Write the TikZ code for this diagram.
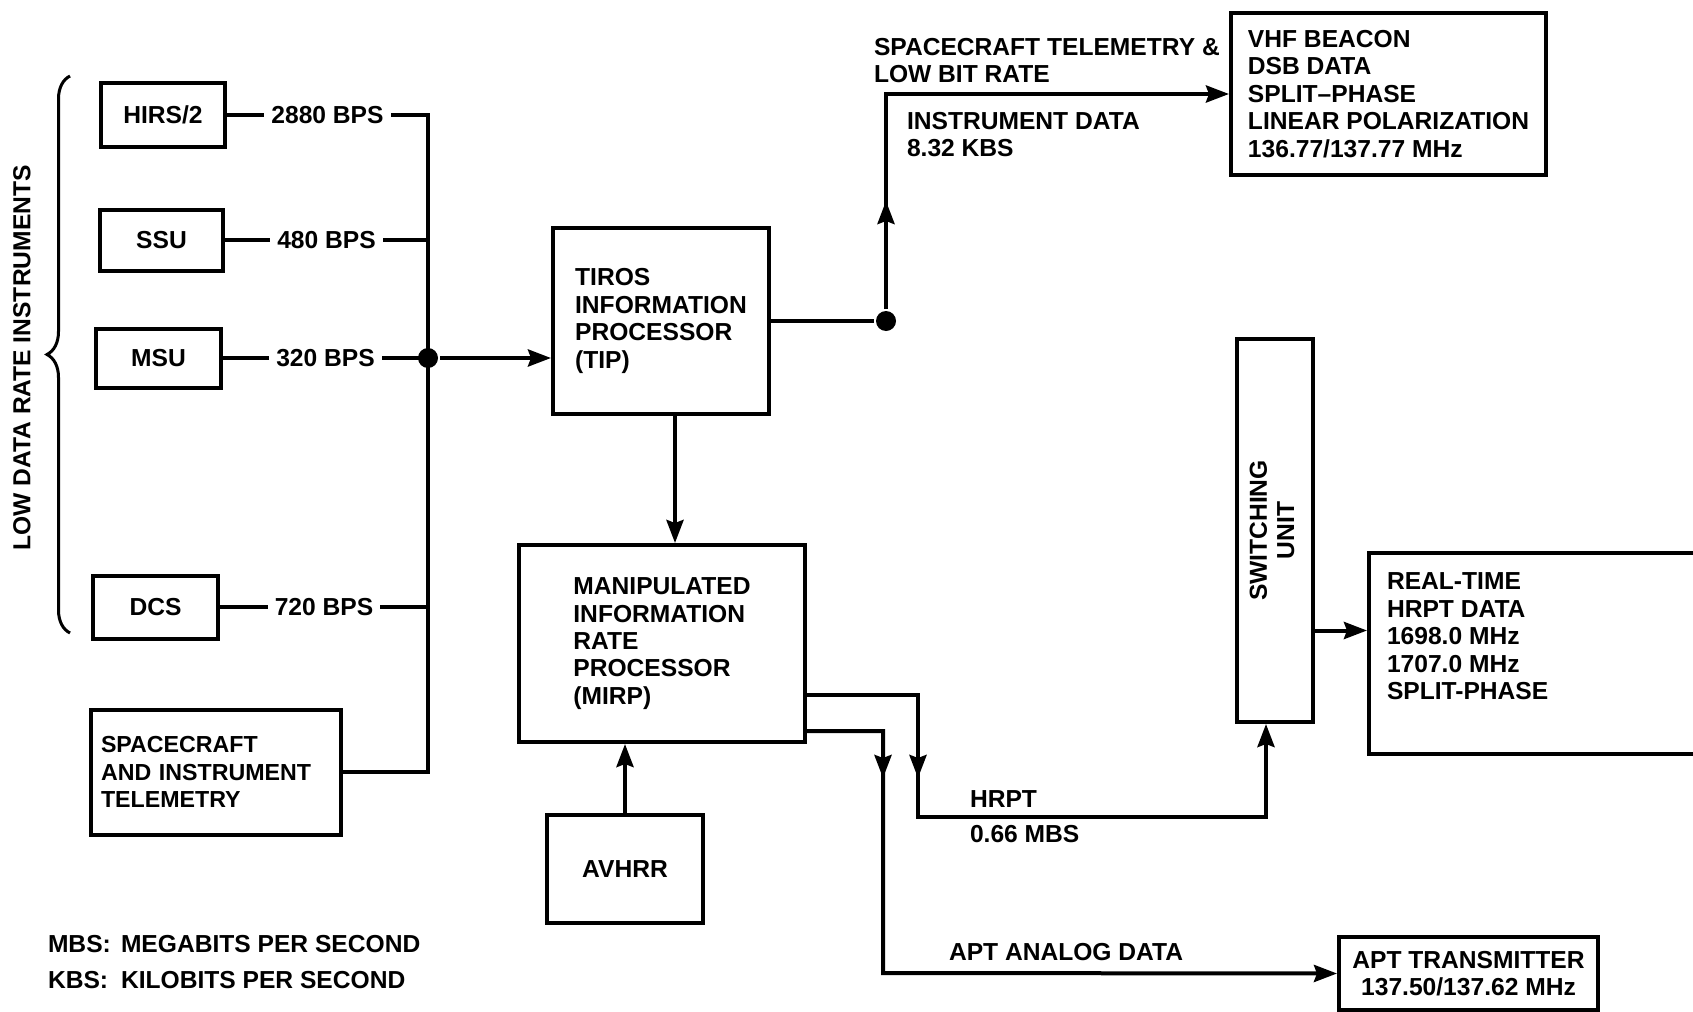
\documentclass[tikz,border=0pt]{standalone}
\usepackage{fontspec}
\setmainfont{Liberation Sans}
\usetikzlibrary{arrows.meta,decorations.pathreplacing,decorations.markings}

\begin{document}
\begin{tikzpicture}[x=0.5pt,y=-0.5pt,line width=2pt,
    >={Stealth[length=11.5pt,width=8.5pt,inset=1.5pt]},
    every node/.style={font=\bfseries\fontsize{12.3}{13.7}\selectfont},
    blk/.style={draw,align=left,inner sep=0pt},
    ctr/.style={draw,align=center,inner sep=0pt},
    rate/.style={fill=white,inner xsep=3.5pt,inner ysep=2pt},
    txt/.style={inner sep=0pt,align=left},
    dot/.style={circle,fill,inner sep=0pt,minimum size=10pt},
    midar/.style={postaction={decorate},decoration={markings,mark=at position #1 with {\arrow{>}}}}]
    \useasboundingbox (0,0) rectangle (1693,1012);

    % low data rate instruments
    \node[ctr,minimum width=62pt,minimum height=32pt] (hirs) at (163,115) {HIRS/2};
    \node[ctr,minimum width=61.5pt,minimum height=30.5pt] (ssu) at (161.5,240) {SSU};
    \node[ctr,minimum width=62.5pt,minimum height=29.5pt] (msu) at (158.5,358) {MSU};
    \node[ctr,minimum width=62.5pt,minimum height=31.5pt] (dcs) at (155.5,607) {DCS};
    \node[draw,align=left,inner xsep=5pt,text width=115pt,minimum height=62.5pt,font=\bfseries\fontsize{11.6}{13.7}\selectfont] (sait) at (216,772) {SPACECRAFT\\AND INSTRUMENT\\TELEMETRY};
    \node[rotate=90] (lowrate) at (22,358) {LOW DATA RATE INSTRUMENTS};
    \draw[line width=1.5pt,decorate,decoration={brace,amplitude=11.5pt}] (70,633) -- (70,76);

    \coordinate (bus) at (428,0);
    \draw (hirs.east) -- node[rate]{2880 BPS} (hirs.east -| bus) -- (sait.east -| bus) -- (sait.east);
    \foreach \n/\r in {ssu/480 BPS,msu/320 BPS,dcs/720 BPS}
        \draw (\n.east) -- node[rate]{\r} (\n.east -| bus);
    \node[dot] (j1) at (msu.east -| bus) {};

    % processors
    \node[blk,minimum width=108pt,minimum height=93pt] (tip) at (661,321) {TIROS\\INFORMATION\\PROCESSOR\\(TIP)};
    \draw[->] (j1) -- (j1 -| tip.west);
    \node[blk,minimum width=143pt,minimum height=98.5pt] (mirp) at (662,643.5) {MANIPULATED\\INFORMATION\\RATE\\PROCESSOR\\(MIRP)};
    \coordinate (tipdown) at ([xshift=7pt]tip.south);
    \draw[->] (tipdown) -- (tipdown |- mirp.north);
    \node[ctr,minimum width=78pt,minimum height=54pt] (avhrr) at (625,869) {AVHRR};
    \draw[->] (avhrr.north) -- (avhrr.north |- mirp.south);

    % beacon
    \node[blk,minimum width=157.5pt,minimum height=81pt] (vhf) at (1388.5,94) {VHF BEACON\\DSB DATA\\SPLIT--PHASE\\LINEAR POLARIZATION\\136.77/137.77 MHz};
    \node[dot] (j2) at (886,321) {};
    \draw (tip.east) -- (j2);
    \draw[->,midar=54pt] (j2) |- (vhf.west);
    \node[txt,anchor=north west] (sctlm) at (872,36) {SPACECRAFT TELEMETRY \&\\LOW BIT RATE};
    \node[txt,anchor=north west] (instd) at (905,110) {INSTRUMENT DATA\\8.32 KBS};

    % hrpt and apt
    \node[ctr,minimum width=38pt,minimum height=191.5pt] (sw) at (1275,530.5) {\rotatebox{90}{\begin{tabular}{@{}c@{}}SWITCHING\\UNIT\end{tabular}}};
    \node[draw,minimum width=165.5pt,minimum height=100.5pt] (rt) at (1534.5,653.5) {};
    \node[txt,anchor=north west] (rttxt) at (1385,571) {REAL-TIME\\HRPT DATA\\1698.0 MHz\\1707.0 MHz\\SPLIT-PHASE};
    \coordinate (swout) at ([yshift=-50pt]sw.east);
    \draw[->] (swout) -- (swout -| rt.west);
    \node[ctr,minimum width=129.5pt,minimum height=36.5pt] (apt) at (1468.5,973.5) {APT TRANSMITTER\\137.50/137.62 MHz};

    \coordinate (hrptout) at ([yshift=-25.75pt]mirp.east);
    \coordinate (aptout) at ([yshift=-43.75pt]mirp.east);
    \coordinate (hrptbend) at (918,817);
    \coordinate (aptbend) at (883,973);
    \coordinate (swin) at ([xshift=-4.5pt]sw.south);
    \draw[->,midar=97pt] (hrptout) -| (hrptbend) -| (swin);
    \draw[->,midar=61.5pt] (aptout) -| (aptbend) -- (apt.west);
    \node[txt,anchor=west] (hrptlbl) at (968,799) {HRPT};
    \node[txt,anchor=west] (hrptrate) at (968,834) {0.66 MBS};
    \node[txt,anchor=west] (aptlbl) at (947,952) {APT ANALOG DATA};

    % legend
    \node[txt,anchor=west] (mbs) at (46,944) {MBS:};
    \node[txt,anchor=west] (mbsdef) at (119,944) {MEGABITS PER SECOND};
    \node[txt,anchor=west] (kbs) at (46,980) {KBS:};
    \node[txt,anchor=west] (kbsdef) at (119,980) {KILOBITS PER SECOND};
\end{tikzpicture}
\end{document}
